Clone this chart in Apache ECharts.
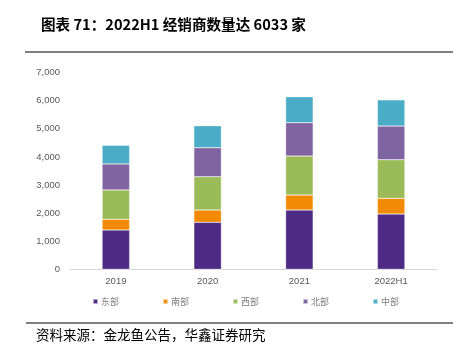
<!DOCTYPE html>
<html><head><meta charset="utf-8">
<script src="https://cdn.jsdelivr.net/npm/echarts@6/dist/echarts.min.js"></script>
<style>html,body{margin:0;padding:0;background:#fff}#c{width:459px;height:359px}</style>
</head><body><div id="c"></div>
<script>
var categories = ['2019', '2020', '2021', '2022H1'];
var seriesNames = ['东部', '南部', '西部', '北部', '中部'];
var east = [1400, 1673, 2111, 1969];
var south = [380, 438, 534, 559];
var west = [1045, 1186, 1388, 1374];
var north = [925, 1032, 1186, 1199];
var central = [665, 783, 926, 932];
var yTicks = [0, 1000, 2000, 3000, 4000, 5000, 6000, 7000];
var colors = ['#4D2A83', '#F38A05', '#9BBB59', '#8064A2', '#4BACC6'];
var values = [east, south, west, north, central];

var chart = echarts.init(document.getElementById('c'));
chart.setOption({
  animation: false,
  title: {
    text: '图表 71：2022H1 经销商数量达 6033 家',
    left: 36, top: 12,
    textStyle: {fontFamily: 'Noto Sans CJK SC', fontSize: 14.6, fontWeight: 'bold', color: '#000'}
  },
  graphic: [
    {type: 'line', shape: {x1: 25, y1: 52, x2: 453, y2: 52}, style: {stroke: '#000', lineWidth: 1.2}},
    {type: 'line', shape: {x1: 26, y1: 323, x2: 453, y2: 323}, style: {stroke: '#808080', lineWidth: 2}},
    {type: 'text', left: 36, top: 328, style: {text: '资料来源：金龙鱼公告，华鑫证券研究', fontFamily: 'Noto Sans CJK SC', fontSize: 13.5, fill: '#000'}}
  ],
  legend: {
    left: 87, top: 292, itemWidth: 5, itemHeight: 5, itemGap: 43, icon: 'rect',
    textStyle: {fontFamily: 'Noto Sans CJK SC', fontSize: 9, color: '#7f7f7f', padding: [0, 0, 0, -2]},
    data: seriesNames
  },
  grid: {left: 70, right: 22, top: 72.7, bottom: 89.7},
  xAxis: {
    type: 'category', data: categories,
    axisLine: {lineStyle: {color: '#d9d9d9'}},
    axisTick: {show: false},
    axisLabel: {color: '#595959', fontSize: 9.5, fontFamily: 'Liberation Sans', margin: 7}
  },
  yAxis: {
    type: 'value', min: yTicks[0], max: yTicks[yTicks.length - 1], interval: 1000,
    splitLine: {show: false}, axisLine: {show: false}, axisTick: {show: false},
    axisLabel: {color: '#595959', fontSize: 9.5, fontFamily: 'Liberation Sans', margin: 10,
      formatter: function (v) { return v.toLocaleString('en-US'); }}
  },
  series: seriesNames.map(function (n, i) {
    return {
      name: n, type: 'bar', stack: 'total', barWidth: '30%', data: values[i],
      itemStyle: {color: colors[i], borderColor: 'rgba(255,255,255,0.6)', borderWidth: 0.5}
    };
  })
});
</script></body></html>
